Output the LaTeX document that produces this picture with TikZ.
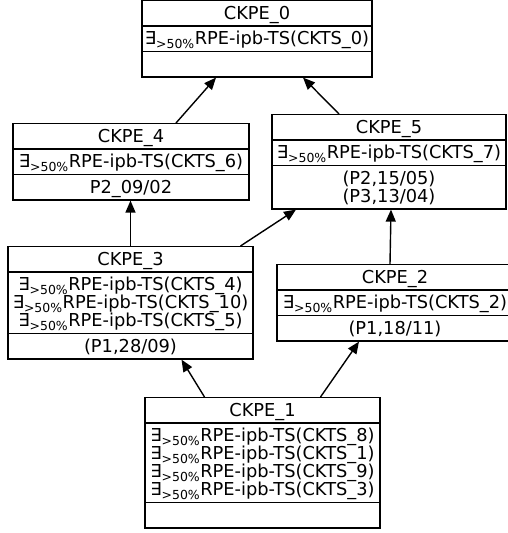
\documentclass[tikz,border=0pt]{standalone}
\usepackage{fontspec}
\setmainfont{DejaVu Sans}
\usetikzlibrary{shapes.multipart,arrows.meta}
\newcommand{\ex}{∃\textsubscript{>50\%}}
\newcommand{\ckl}[1]{\rule[-3pt]{0pt}{18pt}\smash{#1}}
\newcommand{\ckptab}[1]{{\renewcommand{\arraystretch}{0.1}\begin{tabular}{@{}c@{}}#1\end{tabular}}}

\begin{document}
\begin{tikzpicture}[x=1pt,y=-1pt,>={Triangle[length=12pt,width=10pt]},line width=1.4pt,
    ckpe/.style={rectangle split,rectangle split parts=3,draw,inner xsep=2pt,inner ysep=3pt,
      font=\fontsize{17.8}{18}\selectfont,anchor=north}]
  \useasboundingbox (0,0) rectangle (507,533);

  % Define vertices
  \node[ckpe,minimum width=230pt] (CKPE_0) at (257,0)
    {\ckl{CKPE\_0} \nodepart{two}\ckl{\ex RPE-ipb-TS(CKTS\_0)} \nodepart{three}\ckl{}};
  \node[ckpe,minimum width=236pt] (CKPE_4) at (131,123)
    {\ckl{CKPE\_4} \nodepart{two}\ckl{\ex RPE-ipb-TS(CKTS\_6)} \nodepart{three}\ckl{P2\_09/02}};
  \node[ckpe,minimum width=234pt] (CKPE_5) at (389,114)
    {\ckl{CKPE\_5} \nodepart{two}\ckl{\ex RPE-ipb-TS(CKTS\_7)}
     \nodepart{three}\ckptab{\ckl{(P2,15/05)}\\\ckl{(P3,13/04)}}};
  \node[ckpe,minimum width=245pt] (CKPE_3) at (130.5,246)
    {\ckl{CKPE\_3} \nodepart{two}\ckptab{\ckl{\ex RPE-ipb-TS(CKTS\_4)}\\\ckl{\ex RPE-ipb-TS(CKTS\_10)}\\\ckl{\ex RPE-ipb-TS(CKTS\_5)}}
     \nodepart{three}\ckl{(P1,28/09)}};
  \node[ckpe,minimum width=236pt] (CKPE_2) at (395,264)
    {\ckl{CKPE\_2} \nodepart{two}\ckl{\ex RPE-ipb-TS(CKTS\_2)} \nodepart{three}\ckl{(P1,18/11)}};
  \node[ckpe,minimum width=235pt] (CKPE_1) at (262.5,397)
    {\ckl{CKPE\_1} \nodepart{two}\ckptab{\ckl{\ex RPE-ipb-TS(CKTS\_8)}\\\ckl{\ex RPE-ipb-TS(CKTS\_1)}\\\ckl{\ex RPE-ipb-TS(CKTS\_9)}\\\ckl{\ex RPE-ipb-TS(CKTS\_3)}}
     \nodepart{three}\ckl{}};

  % Draw edges
  \path[->]
    ([xshift=45pt]CKPE_4.north) edge ([xshift=-41pt]CKPE_0.south)
    ([xshift=-50pt]CKPE_5.north) edge ([xshift=46pt]CKPE_0.south)
    (CKPE_3.north) edge (CKPE_3.north |- CKPE_4.south)
    ([xshift=110pt]CKPE_3.north) edge ([xshift=-93pt]CKPE_5.south)
    ([xshift=-5pt]CKPE_2.north) edge ([xshift=-4pt]CKPE_2.north |- CKPE_5.south)
    ([xshift=-58pt]CKPE_1.north) edge ([xshift=51pt]CKPE_3.south)
    ([xshift=58pt]CKPE_1.north) edge ([xshift=-36pt]CKPE_2.south);

\end{tikzpicture}
\end{document}
